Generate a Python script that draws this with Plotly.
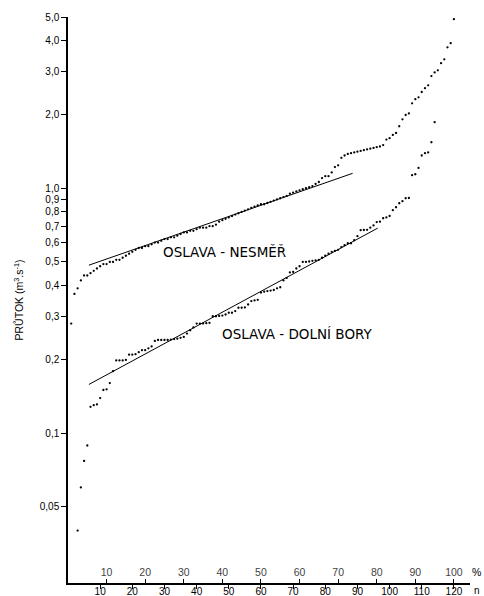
import math
import plotly.graph_objects as go

# --- data ---
nesmer_n = list(range(1, 121))
nesmer_q = [0.28, 0.37, 0.39, 0.42, 0.44, 0.44, 0.45, 0.46, 0.47, 0.48,
            0.49, 0.49, 0.50, 0.50, 0.51, 0.51, 0.52, 0.53, 0.54, 0.55,
            0.56, 0.57, 0.57, 0.58, 0.58, 0.59, 0.60, 0.60, 0.61, 0.62,
            0.62, 0.63, 0.63, 0.64, 0.65, 0.66, 0.66, 0.67, 0.67, 0.68,
            0.69, 0.69, 0.69, 0.70, 0.70, 0.71, 0.73, 0.74, 0.75, 0.76,
            0.77, 0.78, 0.79, 0.80, 0.81, 0.82, 0.83, 0.84, 0.85, 0.86,
            0.86, 0.87, 0.88, 0.89, 0.90, 0.91, 0.92, 0.93, 0.95, 0.96,
            0.97, 0.98, 0.99, 1.00, 1.01, 1.02, 1.04, 1.06, 1.10, 1.12,
            1.12, 1.16, 1.22, 1.24, 1.33, 1.36, 1.38, 1.39, 1.40, 1.41,
            1.42, 1.43, 1.44, 1.45, 1.46, 1.47, 1.48, 1.50, 1.58, 1.60,
            1.65, 1.68, 1.79, 1.91, 1.99, 2.02, 2.22, 2.31, 2.35, 2.47,
            2.56, 2.63, 2.87, 2.97, 3.03, 3.24, 3.36, 3.76, 3.91, 4.90]

dolni_n = list(range(3, 115))
dolni_q = [0.040, 0.060, 0.077, 0.089, 0.128, 0.130, 0.131, 0.139, 0.150, 0.151,
           0.160, 0.179, 0.198, 0.198, 0.198, 0.199, 0.209, 0.209, 0.210, 0.214,
           0.218, 0.218, 0.222, 0.226, 0.238, 0.240, 0.240, 0.240, 0.240, 0.241,
           0.242, 0.243, 0.245, 0.247, 0.255, 0.263, 0.270, 0.280, 0.280, 0.280,
           0.281, 0.282, 0.300, 0.300, 0.301, 0.302, 0.305, 0.310, 0.310, 0.315,
           0.325, 0.325, 0.326, 0.335, 0.346, 0.348, 0.350, 0.375, 0.378, 0.380,
           0.382, 0.384, 0.390, 0.394, 0.420, 0.430, 0.453, 0.455, 0.470, 0.480,
           0.500, 0.500, 0.502, 0.505, 0.507, 0.510, 0.520, 0.530, 0.540, 0.550,
           0.555, 0.560, 0.575, 0.585, 0.596, 0.596, 0.613, 0.637, 0.674, 0.675,
           0.676, 0.690, 0.705, 0.727, 0.730, 0.754, 0.760, 0.770, 0.813, 0.836,
           0.868, 0.885, 0.910, 0.912, 1.13, 1.14, 1.21, 1.36, 1.39, 1.40,
           1.54, 1.86]

# fitted straight lines (end points)
fit_nesmer_n = [6.5, 88.5]
fit_nesmer_q = [0.485, 1.15]
fit_dolni_n = [6.5, 96.3]
fit_dolni_q = [0.158, 0.687]

y_tickvals = [0.05, 0.1, 0.2, 0.3, 0.4, 0.5, 0.6, 0.7, 0.8, 0.9, 1.0, 2.0, 3.0, 4.0, 5.0]
y_ticktext = ["0,05", "0,1", "0,2", "0,3", "0,4", "0,5", "0,6", "0,7", "0,8", "0,9",
              "1,0", "2,0", "3,0", "4,0", "5,0"]
n_ticks = [10, 20, 30, 40, 50, 60, 70, 80, 90, 100, 110, 120]
pct_ticks = [10, 20, 30, 40, 50, 60, 70, 80, 90, 100]

# label positions (n, discharge)
label_nesmer = (48.8, 0.548)
label_dolni = (71.4, 0.254)

N_MAX = 125
N_TOTAL = 120

font_fam = "Liberation Sans, Arial, sans-serif"

fig = go.Figure()
fig.add_trace(go.Scatter(x=nesmer_n, y=nesmer_q, mode="markers",
                         marker=dict(color="black", size=2.3), showlegend=False))
fig.add_trace(go.Scatter(x=dolni_n, y=dolni_q, mode="markers",
                         marker=dict(color="black", size=2.3), showlegend=False))
fig.add_trace(go.Scatter(x=fit_nesmer_n, y=fit_nesmer_q, mode="lines",
                         line=dict(color="black", width=1), showlegend=False))
fig.add_trace(go.Scatter(x=fit_dolni_n, y=fit_dolni_q, mode="lines",
                         line=dict(color="black", width=1), showlegend=False))
# invisible trace for the percent axis
fig.add_trace(go.Scatter(x=[0], y=[1], xaxis="x2", mode="markers",
                         marker=dict(opacity=0), showlegend=False, hoverinfo="skip"))

fig.update_layout(
    width=484, height=596,
    margin=dict(l=68, r=14, t=17, b=13),
    paper_bgcolor="white", plot_bgcolor="white",
    font=dict(family=font_fam, color="black", size=10),
    xaxis=dict(range=[0, N_MAX], tickvals=n_ticks, ticks="outside", ticklen=4,
               tickcolor="black", showline=True, linecolor="black", linewidth=1.5,
               showgrid=False, zeroline=False, automargin=False,
               tickfont=dict(size=10), ticklabelstandoff=-6),
    xaxis2=dict(range=[0, N_MAX * 100 / N_TOTAL], overlaying="x", anchor="y", side="bottom",
                tickvals=pct_ticks, ticks="inside", ticklen=4, tickcolor="black",
                ticklabelposition="inside", showline=False, showgrid=False,
                zeroline=False, automargin=False, tickfont=dict(size=10.5)),
    yaxis=dict(type="log", range=[-1.612, 0.699], tickvals=y_tickvals, ticktext=y_ticktext,
               ticks="outside", ticklen=5, tickcolor="black", showline=True,
               linecolor="black", linewidth=1.5, showgrid=False, zeroline=False,
               automargin=False, tickfont=dict(size=10),
               title=dict(text="PRŮTOK (m<sup>3</sup>.s<sup>-1</sup>)",
                          font=dict(size=10.5), standoff=14)),
    annotations=[
        dict(text="OSLAVA - NESMĚŘ", x=label_nesmer[0], y=math.log10(label_nesmer[1]),
             xref="x", yref="y", showarrow=False,
             font=dict(size=13.5, family="DejaVu Sans"), xanchor="center"),
        dict(text="OSLAVA - DOLNÍ BORY", x=label_dolni[0], y=math.log10(label_dolni[1]),
             xref="x", yref="y", showarrow=False,
             font=dict(size=13.5, family="DejaVu Sans"), xanchor="center"),
        dict(text="%", x=1.0, y=0.0, xref="paper", yref="paper", xanchor="left",
             yanchor="bottom", yshift=3, showarrow=False, font=dict(size=10.5)),
        dict(text="n", x=1.005, y=0.0, xref="paper", yref="paper", xanchor="left",
             yanchor="middle", yshift=-7, showarrow=False, font=dict(size=10)),
    ],
)

fig.write_html("out.html")
